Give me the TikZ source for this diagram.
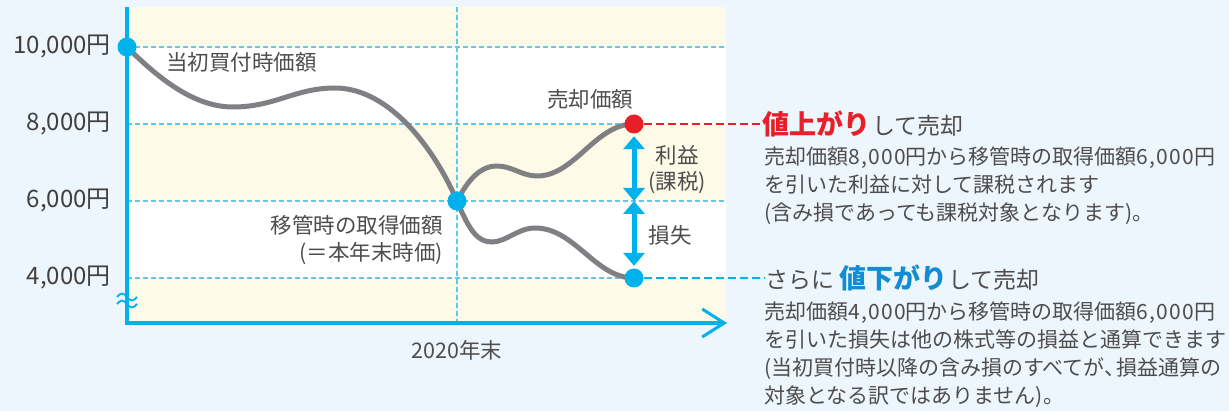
\documentclass[tikz,border=0pt]{standalone}
\usepackage{fontspec}
\setmainfont{Noto Sans CJK JP}
\usetikzlibrary{arrows.meta,positioning}

\definecolor{bgblue}{RGB}{238,246,253}
\definecolor{cream}{RGB}{253,251,232}
\definecolor{axisblue}{RGB}{0,178,236}
\definecolor{gridblue}{RGB}{95,200,240}
\definecolor{curvegray}{RGB}{128,128,132}
\definecolor{sellred}{RGB}{232,30,40}
\definecolor{textgray}{RGB}{77,77,77}
\definecolor{downblue}{RGB}{20,140,210}

\newcommand\yen[1]{{\addfontfeature{LetterSpace=6}#1}}

\begin{document}
\begin{tikzpicture}[x=1pt,y=-1pt,every node/.style={text=textgray,inner sep=0pt}]
  \tikzstyle{pricedot}=[circle,minimum size=19pt,inner sep=0pt]
  \tikzstyle{gridline}=[gridblue,line width=1.1pt,dash pattern=on 5pt off 3pt]
  \tikzstyle{pricecurve}=[curvegray,line width=5pt]
  \tikzstyle{axisline}=[axisblue,line width=3.5pt]
  \tikzstyle{yval}=[anchor=east,text=black!75,font=\fontsize{24}{24}\selectfont]
  \tikzstyle{lbl}=[font=\fontsize{21.5}{26}\selectfont]
  \tikzstyle{notetext}=[align=left,font=\fontsize{21}{28}\selectfont]
  \tikzstyle{gaparrow}=[axisblue,line width=5pt,{Triangle[length=13pt,width=21pt]}-{Triangle[length=13pt,width=21pt]}]

  \fill[bgblue] (0,0) rectangle (1229,411);
  \useasboundingbox (0,0) rectangle (1229,411);

  % bands
  \fill[cream] (127,7) rectangle (726,323);
  \fill[white] (127,47) rectangle (726,124);
  \fill[white] (127,201) rectangle (726,278);

  \coordinate (o)    at (127,323);
  \coordinate (ytop) at (127,7);
  \coordinate (xend) at (727,323);
  \coordinate (p0) at (127,47);
  \coordinate (p1) at (457,201);
  \coordinate (p2) at (634,124);
  \coordinate (p3) at (634,278);
  \coordinate (mid) at (634,201);

  % grid
  \draw[gridline] (p0) -- (726,47);
  \draw[gridline] (127,124) -- (p2);
  \draw[gridline] (127,201) -- (726,201);
  \draw[gridline] (127,278) -- (p3);
  \draw[gridline] (457,7) -- (457,323);

  % price paths
  \draw[pricecurve] (p0) .. controls (160,80) and (195,107) .. (233,107)
    .. controls (275,107) and (295,88) .. (335,88)
    .. controls (390,88) and (435,150) .. (p1);
  \draw[pricecurve] (p1) .. controls (468,180) and (480,166) .. (497,166)
    .. controls (512,166) and (522,176) .. (537,176)
    .. controls (575,176) and (595,124) .. (p2);
  \draw[pricecurve] (p1) .. controls (470,232) and (478,242) .. (492,242)
    .. controls (506,242) and (518,228) .. (535,228)
    .. controls (575,228) and (595,278) .. (p3);

  % axes
  \draw[axisline,-{Straight Barb[length=22pt,width=28pt,line width=3pt]}] (ytop) -- (o) -- (xend);
  \draw[axisblue,line width=1.8pt] (117,297) sin (122,293.5) cos (127,297) sin (132,300.5) cos (137,297);
  \draw[axisblue,line width=1.8pt] (117,304) sin (122,300.5) cos (127,304) sin (132,307.5) cos (137,304);

  \node[pricedot,fill=axisblue] (d0) at (p0) {};
  \node[pricedot,fill=axisblue] (d1) at (p1) {};
  \node[pricedot,fill=sellred]  (d2) at (p2) {};
  \node[pricedot,fill=axisblue] (d3) at (p3) {};

  \draw[gaparrow,shorten <=2.5pt] (d2.south) -- (mid);
  \draw[gaparrow,shorten >=2.5pt] (mid) -- (d3.north);

  \node[yval] (y10) at (111,47)  {10,000円};
  \node[yval] (y8)  at (111,124) {8,000円};
  \node[yval] (y6)  at (111,201) {6,000円};
  \node[yval] (y4)  at (111,278) {4,000円};

  \node[lbl,anchor=west] (buy) at (166,62) {当初買付時価額};
  \node[lbl,anchor=east] (move) at (443,225) {移管時の取得価額};
  \node[lbl,anchor=east] (moveb) at (443,254) {(＝本年末時価)};
  \node[lbl] (selllbl) at (590,99) {売却価額};
  \node[lbl,align=center] (gain) at (677,170) {利益\\(課税)};
  \node[lbl] (loss) at (670,235) {損失};
  \node[lbl] (year) at (457,350) {2020年末};

  \node[anchor=west] (uptitle) at (762,124)
    {{\fontsize{27}{27}\selectfont\bfseries\color{sellred}値上がり}\hspace{2pt}{\fontsize{23}{23}\selectfont して売却}};
  \node[anchor=west] (downtitle) at (765,278)
    {{\fontsize{23}{23}\selectfont さらに}\hspace{5pt}{\fontsize{27}{27}\selectfont\bfseries\color{downblue}値下がり}\hspace{1pt}{\fontsize{23}{23}\selectfont して売却}};

  \draw[sellred,line width=1.8pt,dash pattern=on 8pt off 4pt] (d2) -- (d2 -| uptitle.west);
  \draw[axisblue,line width=1.8pt,dash pattern=on 8pt off 4pt] (d3) -- (d3 -| downtitle.west);

  \node[notetext,anchor=north west] (upnote) at (764,147)
    {売却価額\yen{8,000}円から移管時の取得価額\yen{6,000}円\\を引いた利益に対して課税されます\\(含み損であっても課税対象となります)。};
  \node[notetext,anchor=north west] (downnote) at (764,302)
    {売却価額\yen{4,000}円から移管時の取得価額\yen{6,000}円\\を引いた損失は他の株式等の損益と通算できます\\(当初買付時以降の含み損のすべてが、\kern-.42em 損益通算の\\対象となる訳ではありません)。};
\end{tikzpicture}
\end{document}
